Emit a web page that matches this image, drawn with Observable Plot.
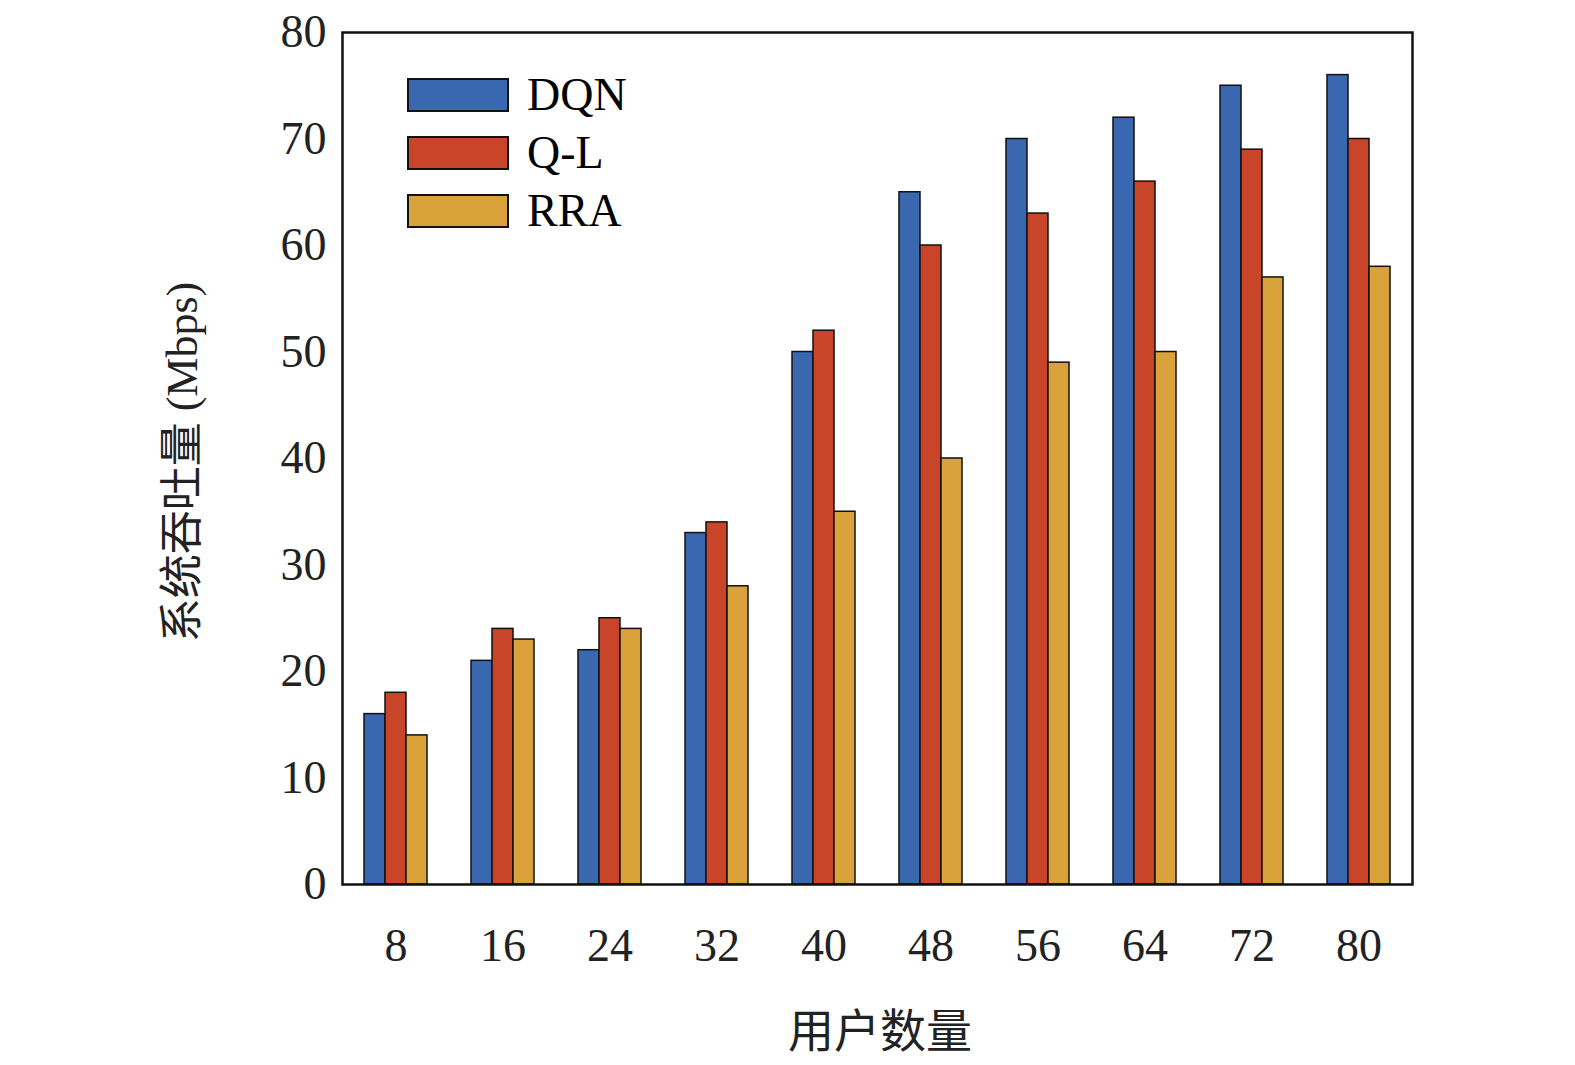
<!DOCTYPE html>
<html><head><meta charset="utf-8">
<script src="https://cdn.jsdelivr.net/npm/d3@7"></script>
<script src="https://cdn.jsdelivr.net/npm/@observablehq/plot@0.6"></script>
<style>body{margin:0;background:#fff}#wrap{position:relative;width:1575px;height:1065px}
.lg{position:absolute;left:407px;top:66px;font-family:"Liberation Serif";font-size:46px;line-height:58px}
.lg div{display:flex;align-items:center}.lg span{display:inline-block;width:98px;height:30px;border:2px solid #111;margin-right:18px}</style>
</head><body><div id="wrap"></div>
<script>
const users=[8,16,24,32,40,48,56,64,72,80];
const series=["DQN","Q-L","RRA"];
const dqn=[16,21,22,33,50,65,70,72,75,76];
const ql=[18,24,25,34,52,60,63,66,69,70];
const rra=[14,23,24,28,35,40,49,50,57,58];
const colors=["#3a68b0","#c8452a","#d9a23a"];
const vals=[dqn,ql,rra];
const data=[];
users.forEach((u,i)=>series.forEach((s,j)=>data.push({u,s,v:vals[j][i]})));
const p=Plot.plot({width:1575,height:1065,marginLeft:337,marginRight:159,marginTop:32,marginBottom:181,
style:{fontFamily:"Liberation Serif",fontSize:"46px",color:"#222"},
fx:{domain:users,padding:0,label:null,tickSize:0,tickPadding:44},
x:{domain:series,paddingInner:0,paddingOuter:0.95,axis:null},
y:{domain:[0,80],ticks:[0,10,20,30,40,50,60,70,80],label:null,tickSize:0,tickPadding:16},
color:{domain:series,range:colors},
marks:[
Plot.barY(data,{fx:"u",x:"s",y:"v",fill:"s",stroke:"#111",strokeWidth:1.5}),
Plot.frame({facet:"super",stroke:"#111",strokeWidth:2.5}),
]});
const w=document.getElementById("wrap");w.appendChild(p);
p.style.position="absolute";p.style.left="0";p.style.top="0";
const yl=document.createElement("div");
yl.innerHTML='<span style="font-family:Noto Sans CJK SC">系统吞吐量</span> (Mbps)';
Object.assign(yl.style,{position:"absolute",left:"178px",top:"462px",transform:"translate(-50%,-50%) rotate(-90deg)",whiteSpace:"nowrap",fontFamily:"Liberation Serif",fontSize:"44px",color:"#222"});
w.appendChild(yl);
const xl=document.createElement("div");xl.textContent="用户数量";
Object.assign(xl.style,{position:"absolute",left:"880px",top:"1027px",transform:"translate(-50%,-50%)",fontFamily:"Noto Sans CJK SC",fontSize:"46px",color:"#222"});
w.appendChild(xl);
const lg=document.createElement("div");lg.className="lg";
lg.innerHTML=series.map((s,i)=>`<div><span style="background:${colors[i]}"></span>${s}</div>`).join("");
w.appendChild(lg);
</script></body></html>
